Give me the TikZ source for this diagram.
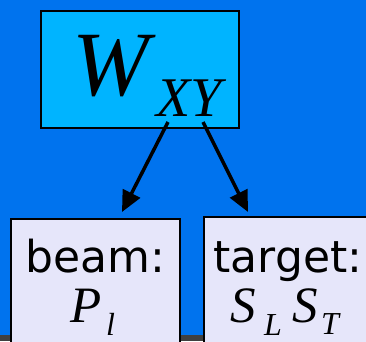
\documentclass[tikz,border=0pt]{standalone}
\usepackage{fontspec}
\setmainfont{Liberation Serif}
\newfontfamily\labelfont{DejaVu Sans}
\usetikzlibrary{arrows.meta}

\definecolor{slideblue}{HTML}{0073EE}
\definecolor{boxcyan}{HTML}{00B4FF}
\definecolor{boxlav}{HTML}{E6E6FA}
\definecolor{stripgray}{HTML}{404040}

\begin{document}
\begin{tikzpicture}[
    x=1pt, y=1pt,
    >={Triangle[length=21pt,width=19pt]},
    topbox/.style={draw, line width=2pt, fill=boxcyan, inner sep=0pt},
    leafbox/.style={draw, line width=2pt, fill=boxlav, inner sep=0pt},
    word/.style={font=\labelfont\fontsize{44}{44}\selectfont, inner sep=0pt, anchor=base},
    sym/.style={font=\fontsize{51}{51}\selectfont\itshape, inner sep=0pt, anchor=base west},
    sub/.style={font=\fontsize{32}{32}\selectfont\itshape, inner sep=0pt, anchor=base west},
    arr/.style={->, line width=3.5pt}
]
\useasboundingbox (0,0) rectangle (366,341);
\fill[slideblue] (0,0) rectangle (366,341);
\fill[stripgray] (0,0) rectangle (366,6);

\begin{scope}
\clip (0,0) rectangle (366,341);
\node[topbox, minimum width=198pt, minimum height=117pt] (wxy) at (140,271.5) {};
\node[leafbox, minimum width=169pt, minimum height=141pt] (beam) at (95.5,51.5) {};
\node[leafbox, minimum width=186pt, minimum height=143pt] (target) at (297,52.5) {};
\end{scope}

% W_XY
\node[sym, font=\fontsize{92}{92}\selectfont\itshape] (wsym) at (72,246) {W};
\node[sym, font=\fontsize{56}{56}\selectfont\itshape] (xysub) at (156,225) {XY};

% beam and target
\node[word] (beamlbl) at (95.5,69) {beam:};
\node[sym] (psym) at (70,19) {P};
\node[sub] (lsub) at (106,6) {l};

\node[word] (targetlbl) at (288,69) {target:};
\node[sym] (s1sym) at (230,19) {S};
\node[sub] (Lsub) at (264,6) {L};
\node[sym] (s2sym) at (292,19) {S};
\node[sub] (Tsub) at (321,7) {T};

% arrows
\coordinate (lstart) at (168,219);
\coordinate (ltip) at (122,129);
\coordinate (rstart) at (203,219);
\coordinate (rtip) at (248,129);
\draw[arr] (lstart) -- (ltip);
\draw[arr] (rstart) -- (rtip);

\end{tikzpicture}
\end{document}
